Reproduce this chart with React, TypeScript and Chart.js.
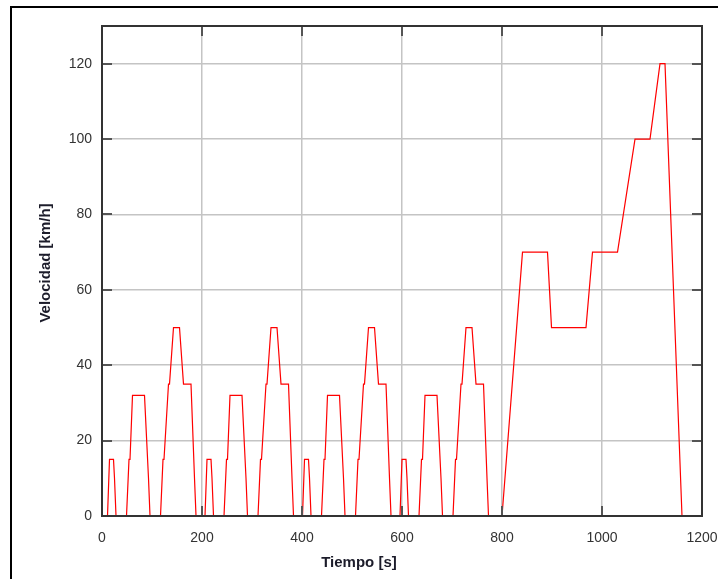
import React, { useEffect, useRef } from "react";
import { Chart, registerables } from "chart.js";

Chart.register(...registerables);

// Time [s] and speed [km/h] of the driving cycle (four urban cycles + extra-urban cycle)
const tiempo: number[] = [
  0, 11, 15, 23, 25, 28, 49, 54, 56, 61, 85, 93, 96, 117, 122, 124, 133, 135, 143, 155, 163, 176, 178, 185, 188,
  195, 206, 210, 218, 220, 223, 244, 249, 251, 256, 280, 288, 291, 312, 317, 319, 328, 330, 338, 350, 358, 371, 373, 380, 383,
  390, 401, 405, 413, 415, 418, 439, 444, 446, 451, 475, 483, 486, 507, 512, 514, 523, 525, 533, 545, 553, 566, 568, 575, 578,
  585, 596, 600, 608, 610, 613, 634, 639, 641, 646, 670, 678, 681, 702, 707, 709, 718, 720, 728, 740, 748, 761, 763, 770, 773,
  780, 800, 841, 891, 899, 968, 981, 1031, 1066, 1096, 1116, 1126, 1160, 1180,
];
const velocidad: number[] = [
  0, 0, 15, 15, 10, 0, 0, 15, 15, 32, 32, 10, 0, 0, 15, 15, 35, 35, 50, 50, 35, 35, 35, 10, 0,
  0, 0, 15, 15, 10, 0, 0, 15, 15, 32, 32, 10, 0, 0, 15, 15, 35, 35, 50, 50, 35, 35, 35, 10, 0,
  0, 0, 15, 15, 10, 0, 0, 15, 15, 32, 32, 10, 0, 0, 15, 15, 35, 35, 50, 50, 35, 35, 35, 10, 0,
  0, 0, 15, 15, 10, 0, 0, 15, 15, 32, 32, 10, 0, 0, 15, 15, 35, 35, 50, 50, 35, 35, 35, 10, 0,
  0, 0, 70, 70, 50, 50, 70, 70, 100, 100, 120, 120, 0, 0,
];

const xTicks: number[] = [0, 200, 400, 600, 800, 1000, 1200];
const yTicks: number[] = [0, 20, 40, 60, 80, 100, 120];
const xMin = 0;
const xMax = 1200;
const yMin = 0;
const yMax = 130;
const xTitle = "Tiempo [s]";
const yTitle = "Velocidad [km/h]";

const FONT = "'Liberation Sans', Arial, sans-serif";

const framePlugin = {
  id: "frame",
  afterDatasetsDraw(chart: any) {
    const { ctx, chartArea: a, scales } = chart;
    const x = scales.x;
    const y = scales.y;
    ctx.save();
    ctx.strokeStyle = "#555555";
    ctx.lineWidth = 2;
    ctx.beginPath();
    xTicks.forEach((v) => {
      const px = Math.round(x.getPixelForValue(v));
      ctx.moveTo(px, a.bottom);
      ctx.lineTo(px, a.bottom - 10);
      ctx.moveTo(px, a.top);
      ctx.lineTo(px, a.top + 10);
    });
    yTicks.forEach((v) => {
      const py = Math.round(y.getPixelForValue(v));
      ctx.moveTo(a.left, py);
      ctx.lineTo(a.left + 10, py);
      ctx.moveTo(a.right, py);
      ctx.lineTo(a.right - 10, py);
    });
    ctx.stroke();
    ctx.strokeStyle = "#333333";
    ctx.lineWidth = 2;
    ctx.strokeRect(a.left, a.top, a.right - a.left, a.bottom - a.top);
    ctx.restore();
  },
  afterDraw(chart: any) {
    const { ctx } = chart;
    ctx.save();
    ctx.fillStyle = "#1c1c2a";
    ctx.font = `bold 15px ${FONT}`;
    ctx.textAlign = "center";
    ctx.textBaseline = "middle";
    ctx.fillText(xTitle, 359, 563);
    ctx.translate(46, 263);
    ctx.rotate(-Math.PI / 2);
    ctx.fillText(yTitle, 0, 0);
    ctx.restore();
  },
};

export default function App() {
  const canvasRef = useRef<HTMLCanvasElement | null>(null);

  useEffect(() => {
    if (!canvasRef.current) return;
    const points = tiempo.map((t, i) => ({ x: t, y: velocidad[i] }));
    const chart = new Chart(canvasRef.current, {
      type: "line",
      data: {
        datasets: [
          {
            data: points,
            borderColor: "#ff0000",
            borderWidth: 1.2,
            pointRadius: 0,
            fill: false,
            tension: 0,
          },
        ],
      },
      options: {
        responsive: false,
        animation: false,
        devicePixelRatio: 1,
        layout: { padding: { top: 26, right: 16, left: 0, bottom: 0 } },
        plugins: {
          legend: { display: false },
          tooltip: { enabled: false },
        },
        scales: {
          x: {
            type: "linear",
            min: xMin,
            max: xMax,
            afterBuildTicks: (scale: any) => {
              scale.ticks = xTicks.map((v) => ({ value: v }));
            },
            afterFit: (scale: any) => {
              scale.height = 63;
              scale.paddingLeft = 0;
              scale.paddingRight = 0;
            },
            grid: { color: "#c4c4c4", lineWidth: 1.5, drawTicks: false },
            border: { display: false },
            ticks: {
              padding: 14,
              color: "#333333",
              font: { family: FONT, size: 14 },
              maxRotation: 0,
              callback: (v: any) => String(v),
            },
            title: { display: false },
          },
          y: {
            type: "linear",
            min: yMin,
            max: yMax,
            afterBuildTicks: (scale: any) => {
              scale.ticks = yTicks.map((v) => ({ value: v }));
            },
            afterFit: (scale: any) => {
              scale.width = 102;
              scale.paddingTop = 0;
              scale.paddingBottom = 0;
            },
            grid: { color: "#c4c4c4", lineWidth: 1.5, drawTicks: false },
            border: { display: false },
            ticks: {
              padding: 10,
              color: "#333333",
              font: { family: FONT, size: 14 },
              callback: (v: any) => String(v),
            },
            title: { display: false },
          },
        },
      },
      plugins: [framePlugin],
    });
    return () => chart.destroy();
  }, []);

  return (
    <div
      style={{
        position: "absolute",
        left: 0,
        top: 0,
        width: 718,
        height: 579,
        overflow: "hidden",
        background: "#ffffff",
      }}
    >
      <canvas ref={canvasRef} width={718} height={579} style={{ position: "absolute", left: 0, top: 0 }} />
      <div
        style={{
          position: "absolute",
          left: 10,
          top: 6,
          width: 800,
          height: 700,
          border: "2px solid #000000",
          pointerEvents: "none",
        }}
      />
    </div>
  );
}
